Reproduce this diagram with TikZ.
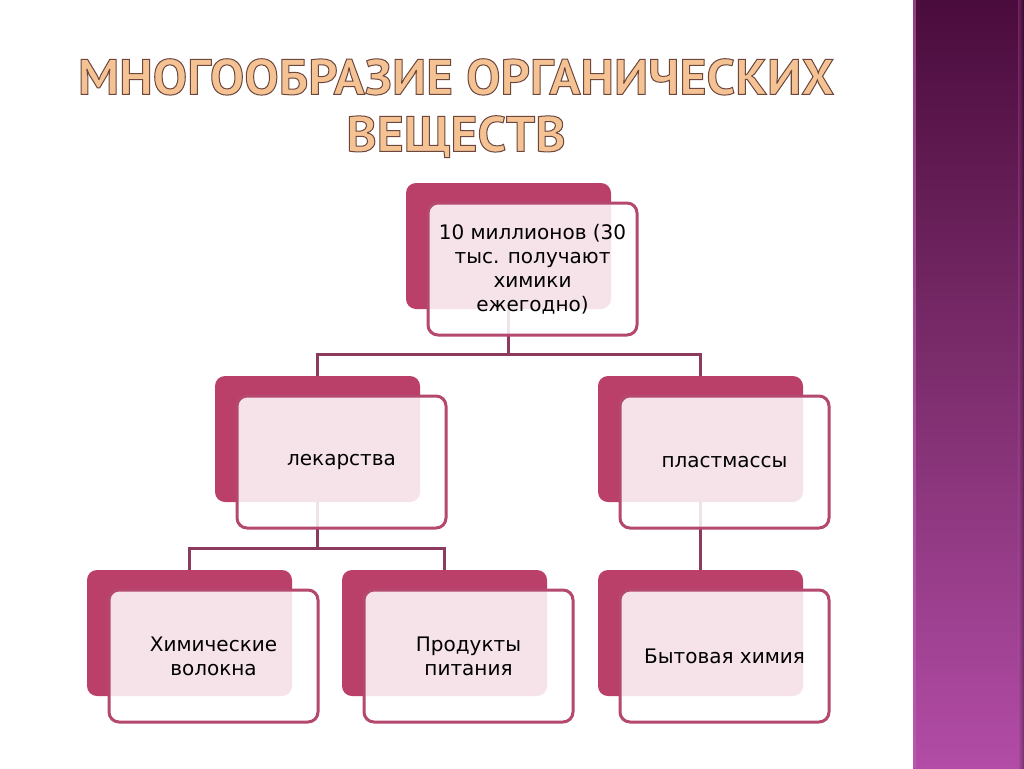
\documentclass[tikz,border=0pt]{standalone}
\usepackage{fontspec}
\setmainfont{DejaVu Sans}
\newfontfamily\titlefont{PT Sans Bold}[FakeStretch=1.03]
\usetikzlibrary{calc}
\definecolor{backpink}{HTML}{BA3F69}
\definecolor{frontline}{HTML}{B4486F}
\definecolor{conn}{HTML}{8C3A5E}
\definecolor{titlefill}{HTML}{F5C293}
\definecolor{paneltop}{HTML}{4A0C3C}
\definecolor{panelmid}{HTML}{7E2E6E}
\definecolor{panelbot}{HTML}{B24CA6}
\definecolor{panelline}{HTML}{C25FB4}
\newcommand\tline[1]{\special{pdf:literal direct q 2 Tr 1 w 0.42 0.28 0.24 RG}#1\special{pdf:literal direct Q}}
\tikzset{
 backbox/.style={rectangle, rounded corners=10pt, fill=backpink, minimum width=205pt, minimum height=126pt, inner sep=0pt},
 frontbox/.style={rectangle, rounded corners=10pt, draw=frontline, line width=3pt, fill=white, fill opacity=0.86, text opacity=1, minimum width=209pt, minimum height=132pt, inner sep=0pt, align=center, font=\fontsize{20}{24}\selectfont, text=black},
 link/.style={draw=conn, line width=3pt, line join=miter},
 titletext/.style={inner sep=0pt, align=center, text=titlefill, font=\titlefont\fontsize{50}{57}\selectfont}
}
\begin{document}
\begin{tikzpicture}[x=1pt,y=-1pt]
\useasboundingbox (0,0) rectangle (1024,768);
\fill[white] (0,0) rectangle (1024,768);
% right panel
\shade[top color=paneltop, bottom color=panelbot, middle color=panelmid] (913,0) rectangle (1024,768);
\fill[panelline, opacity=0.6] (913,0) rectangle (916,768);
\shade[left color=panelbot, right color=black, opacity=0.35] (1018,0) rectangle (1024,768);
% back boxes
\node[backbox] (topB) at (508.5,246) {};
\node[backbox] (lekB) at (317.5,439) {};
\node[backbox] (plaB) at (700.5,439) {};
\node[backbox] (volB) at (189.5,633) {};
\node[backbox] (proB) at (444.5,633) {};
\node[backbox] (bytB) at (700.5,633) {};
% connectors
\coordinate (j1) at ($(topB.south)+(0,45)$);
\coordinate (j2) at ($(lekB.south)+(0,46)$);
\draw[link] (topB.south) -- (j1);
\draw[link] (lekB.north) |- (j1) -| (plaB.north);
\draw[link] (lekB.south) -- (j2);
\draw[link] (volB.north) |- (j2) -| (proB.north);
\draw[link] (plaB.south) -- (bytB.north);
% front boxes
\node[frontbox] (topF) at (532.5,269) {10 миллионов (30\\тыс. получают\\химики\\ежегодно)};
\node[frontbox] (lekF) at (341.5,462) {лекарства};
\node[frontbox] (plaF) at (724.5,462) {пластмассы};
\node[frontbox] (volF) at (213.5,656) {Химические\\волокна};
\node[frontbox] (proF) at (468.5,656) {Продукты\\питания};
\node[frontbox] (bytF) at (724.5,656) {Бытовая химия};
% title
\node[titletext, anchor=north] (title) at (456,58.5) {\tline{МНОГООБРАЗИЕ ОРГАНИЧЕСКИХ}\\\tline{ВЕЩЕСТВ}};
\end{tikzpicture}
\end{document}
